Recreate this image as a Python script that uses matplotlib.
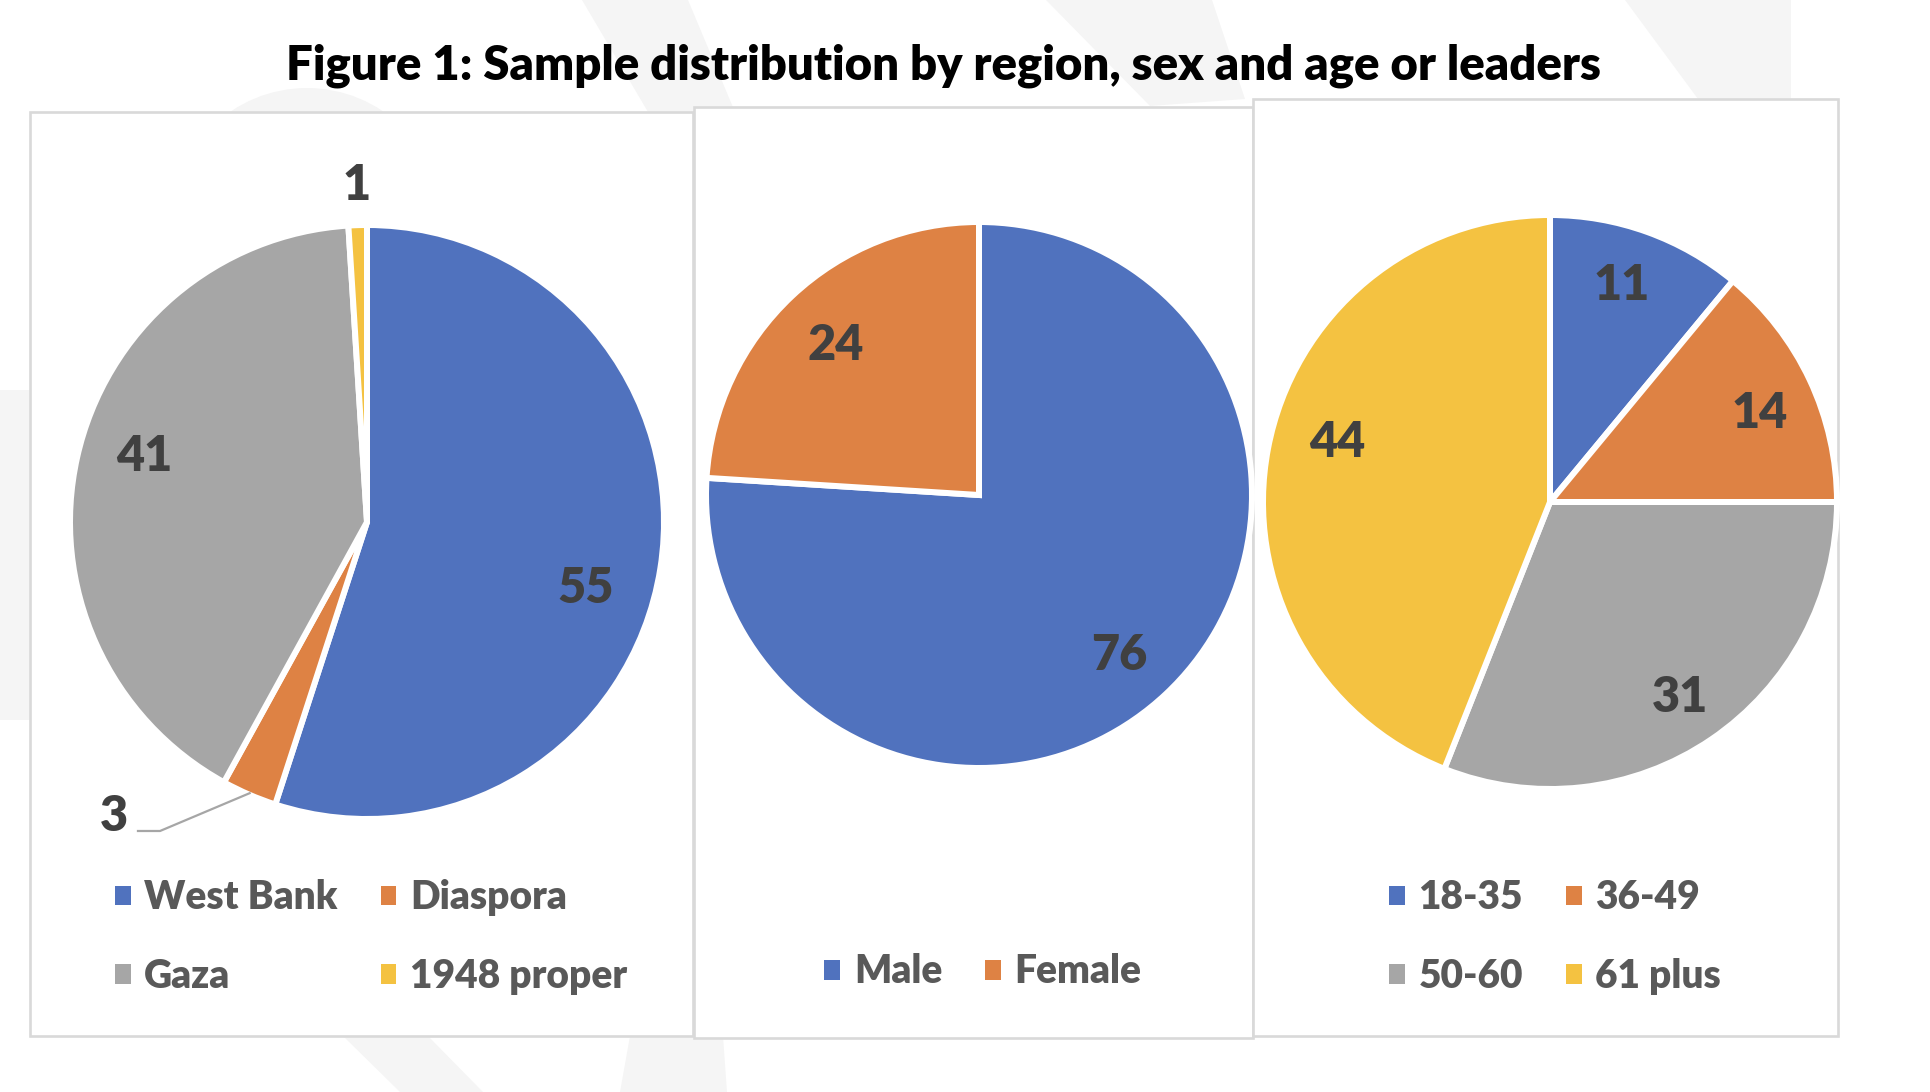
import matplotlib
matplotlib.use("Agg")
import matplotlib.pyplot as plt
from matplotlib.patches import Rectangle, Polygon, Circle, Patch
import numpy as np

# ---------------- data ----------------
title = "Figure 1: Sample distribution by region, sex and age or leaders"

region_labels = ["West Bank", "Diaspora", "Gaza", "1948 proper"]
region_values = [55, 3, 41, 1]

sex_labels = ["Male", "Female"]
sex_values = [76, 24]

age_labels = ["18-35", "36-49", "50-60", "61 plus"]
age_values = [11, 14, 31, 44]

colors = ["#5072BE", "#DE8244", "#A6A6A6", "#F4C241"]

# ---------------- layout (pixels of a 1930x1092 canvas) ----------------
W, H = 1930, 1092
FONT = "Lato"
LABEL_COLOR = "#404040"
LEGEND_COLOR = "#595959"

fig = plt.figure(figsize=(W / 100, H / 100), dpi=100)
fig.patch.set_facecolor("white")

def fx(x):
    return x / W

def fy(y):
    return 1 - y / H

# background axes in pixel coordinates
bg = fig.add_axes([0, 0, 1, 1], zorder=-5)
bg.set_xlim(0, W)
bg.set_ylim(H, 0)
bg.axis("off")

wm = "#F5F5F5"
for poly in [
    [(582, 0), (688, 0), (735, 112), (648, 112)],
    [(1046, 0), (1212, 0), (1245, 99), (1150, 106)],
    [(1625, 0), (1791, 0), (1791, 99), (1698, 99)],
    [(343, 1036), (428, 1036), (483, 1092), (400, 1092)],
    [(630, 1036), (723, 1036), (727, 1092), (620, 1092)],
    [(0, 390), (32, 390), (32, 720), (0, 720)],
]:
    bg.add_patch(Polygon(poly, closed=True, facecolor=wm, edgecolor="none", zorder=0))
bg.add_patch(Circle((307, 224), 136, facecolor=wm, edgecolor="none", zorder=0))

# panels
panels = [(30, 112, 693, 1036), (694, 107, 1253, 1038), (1253, 99, 1838, 1036)]
for i, (x0, y0, x1, y1) in enumerate(panels):
    bg.add_patch(Rectangle((x0, y0), x1 - x0, y1 - y0, facecolor="white",
                           edgecolor="#D9D9D9", linewidth=1.9, zorder=1 + i))

fig.text(fx(943), fy(80), title, ha="center", va="baseline",
         fontsize=34, fontweight="heavy", family=FONT, color="black")

# pie geometry: center x, center y, visible radius
pie_geom = [(367, 522, 294), (979, 495, 270), (1550, 502, 284)]
# per label: (radial distance, angle offset in degrees) relative to wedge mid-angle
label_layout = [
    [(0.775, -7.0), None, (0.794, -4.6), (1.16, 0.0)],
    [(0.779, -1.4), (0.778, 0.0)],
    [(0.815, 1.7), (0.807, -1.5), (0.815, 0.0), (0.783, -5.9)],
]
# leader for the Diaspora label: elbow and end points, text anchor (data units)
leader_elbow = (-0.704, -1.051)
leader_end = (-0.779, -1.051)
leader_text = (-0.813, -1.051)

legend_centers = [(371, 937), (983, 972), (1555, 937)]

EDGE_PX = 6.0
L = 1.3

all_values = [region_values, sex_values, age_values]
all_labels = [region_labels, sex_labels, age_labels]

for k, (vals, labs) in enumerate(zip(all_values, all_labels)):
    cx, cy, R = pie_geom[k]
    ax = fig.add_axes([fx(cx - L * R), fy(cy + L * R), 2 * L * R / W, 2 * L * R / H])
    cols = colors[: len(vals)]
    wedges, _ = ax.pie(vals, colors=cols, startangle=90, counterclock=False,
                       radius=1 + (EDGE_PX / 2) / R,
                       wedgeprops=dict(edgecolor="white", linewidth=EDGE_PX * 0.72))
    ax.set_xlim(-L, L)
    ax.set_ylim(-L, L)
    ax.set_aspect("equal")
    ax.axis("off")
    for i, (w, v) in enumerate(zip(wedges, vals)):
        mid = 0.5 * (w.theta1 + w.theta2)
        lay = label_layout[k][i]
        if lay is None:
            # leader-line label
            t = np.deg2rad(mid)
            sx, sy = np.cos(t) * 1.005, np.sin(t) * 1.005
            ax.plot([sx, leader_elbow[0], leader_end[0]],
                    [sy, leader_elbow[1], leader_end[1]],
                    color="#A6A6A6", linewidth=1.6, clip_on=False, zorder=3)
            ax.text(leader_text[0], leader_text[1], str(v), ha="right", va="baseline",
                    fontsize=35, fontweight="heavy", family=FONT, color=LABEL_COLOR)
            continue
        r, dth = lay
        t = np.deg2rad(mid + dth)
        ax.text(r * np.cos(t), r * np.sin(t), str(v), ha="center", va="center_baseline",
                fontsize=35, fontweight="heavy", family=FONT, color=LABEL_COLOR)

    handles = [Patch(facecolor=c, edgecolor="none") for c in cols]
    if len(vals) == 4:
        order = [0, 2, 1, 3]
    else:
        order = [0, 1]
    lx, ly = legend_centers[k]
    fig.legend([handles[j] for j in order], [labs[j] for j in order],
               loc="center", bbox_to_anchor=(fx(lx), fy(ly)), ncol=2,
               frameon=False, handlelength=0.41, handleheight=0.41,
               handletextpad=0.35, columnspacing=1.1, labelspacing=1.06,
               labelcolor=LEGEND_COLOR,
               prop=dict(family=FONT, weight="heavy", size=28))

fig.savefig("out.png", dpi=100, facecolor="white")
